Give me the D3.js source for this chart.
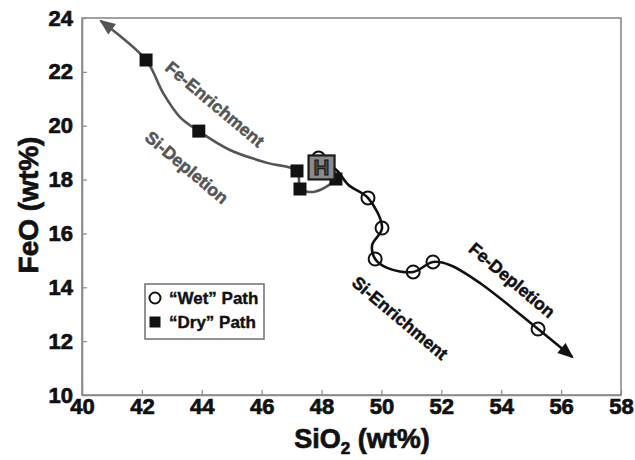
<!DOCTYPE html>
<html>
<head>
<meta charset="utf-8">
<script src="https://cdn.jsdelivr.net/npm/d3@7"></script>
<style>
  html, body { margin: 0; padding: 0; background: #fff; }
  svg { display: block; font-family: "Liberation Sans", Arial, Helvetica, sans-serif; font-weight: bold; }
</style>
</head>
<body>
<svg id="chart" width="635" height="460"></svg>
<script>
// Axis ticks
const xTicks = [40, 42, 44, 46, 48, 50, 52, 54, 56, 58];
const yTicks = [10, 12, 14, 16, 18, 20, 22, 24];

// Measured compositions: [SiO2 wt%, FeO wt%]
const wetPoints = [[47.9, 18.8], [49.55, 17.32], [50.02, 16.2], [49.79, 15.05], [51.06, 14.57], [51.72, 14.94], [55.23, 12.45]];
const dryPoints = [[42.14, 22.44], [43.9, 19.8], [47.18, 18.32], [47.28, 17.65], [48.48, 18.02]];
const hostPoint = [48.0, 18.45];

// Trend paths traced through the compositions
const wetTrend = [[48.0, 18.55], [48.45, 18.4], [48.9, 17.8], [49.55, 17.32], [50.02, 16.2], [49.69, 15.57], [49.79, 15.05], [50.19, 14.72], [51.06, 14.57], [51.72, 14.94], [52.3, 14.82], [53.3, 14.15], [55.23, 12.45], [56.37, 11.41]];
const dryTrend = [[48.0, 18.45], [48.45, 18.05], [47.8, 17.56], [47.3, 17.65], [47.18, 18.32], [46.18, 18.62], [44.94, 19.1], [43.9, 19.8], [43.27, 20.32], [42.71, 21.21], [42.14, 22.44], [40.63, 23.89]];

// Trend annotations: text, anchor [SiO2, FeO], colour
const notes = [
  { text: "Fe-Enrichment", at: [44.44, 20.8], color: "#555" },
  { text: "Si-Depletion",  at: [43.5, 18.45], color: "#555" },
  { text: "Si-Enrichment", at: [50.62, 12.86], color: "#111" },
  { text: "Fe-Depletion",  at: [54.36, 14.27], color: "#111" }
];

const legendItems = [
  { label: "\u201cWet\u201d Path", kind: "circle" },
  { label: "\u201cDry\u201d Path", kind: "square" }
];

const svg = d3.select("#chart");
const x = d3.scaleLinear().domain([40, 58]).range([82, 621]);
const y = d3.scaleLinear().domain([10, 24]).range([395, 18]);

// Arrowheads
const defs = svg.append("defs");
[["arrowGrey", "#555"], ["arrowBlack", "#111"]].forEach(([id, c]) => {
  defs.append("marker")
    .attr("id", id)
    .attr("viewBox", "-17 -7 20 14")
    .attr("refX", -2).attr("refY", 0)
    .attr("markerWidth", 20).attr("markerHeight", 14)
    .attr("markerUnits", "userSpaceOnUse")
    .attr("orient", "auto")
    .append("path")
    .attr("d", "M0,0L-16,-6.5L-16,6.5Z")
    .attr("fill", c);
});

// Frame
svg.append("rect")
  .attr("x", x(40)).attr("y", y(24))
  .attr("width", x(58) - x(40)).attr("height", y(10) - y(24))
  .attr("fill", "none").attr("stroke", "#8a8a8a").attr("stroke-width", 1.6);

// Axes
const xAxis = svg.append("g")
  .attr("transform", `translate(0,${y(10)})`)
  .call(d3.axisBottom(x).tickValues(xTicks).tickFormat(d3.format("d")).tickSizeInner(-5).tickSizeOuter(0).tickPadding(3));
const yAxis = svg.append("g")
  .attr("transform", `translate(${x(40)},0)`)
  .call(d3.axisLeft(y).tickValues(yTicks).tickFormat(d3.format("d")).tickSizeInner(-5).tickSizeOuter(0).tickPadding(9));
[xAxis, yAxis].forEach(g => {
  g.select(".domain").attr("stroke", "#8a8a8a").attr("stroke-width", 1.6);
  g.selectAll(".tick line").attr("stroke", "#8a8a8a").attr("stroke-width", 1.2);
  g.selectAll(".tick text")
    .attr("fill", "#111").attr("stroke", "#111").attr("stroke-width", 0.7)
    .style("font-size", "22px")
    .style("font-weight", "bold")
    .style("font-family", "'Liberation Sans', Arial, sans-serif");
});

// Axis titles
const xTitle = svg.append("text")
  .attr("x", 362).attr("y", 448)
  .attr("text-anchor", "middle")
  .attr("fill", "#111").attr("stroke", "#111").attr("stroke-width", 0.7)
  .style("font-size", "27px");
xTitle.append("tspan").text("SiO");
xTitle.append("tspan").text("2").attr("dy", 6).style("font-size", "17px");
xTitle.append("tspan").text(" (wt%)").attr("dy", -6);

svg.append("text")
  .attr("transform", `translate(38,205) rotate(-90)`)
  .attr("text-anchor", "middle")
  .attr("fill", "#111").attr("stroke", "#111").attr("stroke-width", 0.7)
  .style("font-size", "28px")
  .text("FeO (wt%)");

// Trend lines
const line = d3.line().x(d => x(d[0])).y(d => y(d[1])).curve(d3.curveCatmullRom.alpha(0.5));
svg.append("path")
  .attr("d", line(dryTrend))
  .attr("fill", "none").attr("stroke", "#555").attr("stroke-width", 2.6)
  .attr("marker-end", "url(#arrowGrey)");
svg.append("path")
  .attr("d", line(wetTrend))
  .attr("fill", "none").attr("stroke", "#111").attr("stroke-width", 2.6)
  .attr("marker-end", "url(#arrowBlack)");

// Wet-path samples
svg.append("g").selectAll("circle")
  .data(wetPoints).join("circle")
  .attr("cx", d => x(d[0])).attr("cy", d => y(d[1]))
  .attr("r", 6.5)
  .attr("fill", "none").attr("stroke", "#111").attr("stroke-width", 2);

// Dry-path samples
const sq = 13;
svg.append("g").selectAll("rect")
  .data(dryPoints).join("rect")
  .attr("x", d => x(d[0]) - sq / 2).attr("y", d => y(d[1]) - sq / 2)
  .attr("width", sq).attr("height", sq)
  .attr("fill", "#111");

// Host composition marker
const hx = x(hostPoint[0]), hy = y(hostPoint[1]);
svg.append("rect")
  .attr("x", hx - 13).attr("y", hy - 12)
  .attr("width", 26).attr("height", 24)
  .attr("fill", "#8a8a8a").attr("stroke", "#1a1a1a").attr("stroke-width", 2.2);
svg.append("text")
  .attr("x", hx).attr("y", hy + 8)
  .attr("text-anchor", "middle")
  .attr("fill", "#4a4a4a").attr("stroke", "#111").attr("stroke-width", 1)
  .style("font-size", "22px")
  .text("H");

// Annotations along the trends
svg.append("g").selectAll("text")
  .data(notes).join("text")
  .attr("transform", d => `translate(${x(d.at[0])},${y(d.at[1])}) rotate(40)`)
  .attr("text-anchor", "middle")
  .attr("dy", "0.35em")
  .attr("fill", d => d.color).attr("stroke", d => d.color).attr("stroke-width", 0.5)
  .style("font-size", "17.5px")
  .text(d => d.text);

// Legend
const legend = svg.append("g").attr("transform", "translate(145,284)");
legend.append("rect")
  .attr("width", 119).attr("height", 55)
  .attr("fill", "#fff").attr("stroke", "#777").attr("stroke-width", 1.6);
const li = legend.selectAll("g.item").data(legendItems).join("g")
  .attr("class", "item")
  .attr("transform", (d, i) => `translate(0,${14 + i * 24})`);
li.filter(d => d.kind === "circle").append("circle")
  .attr("cx", 10).attr("cy", 0).attr("r", 5.5)
  .attr("fill", "none").attr("stroke", "#111").attr("stroke-width", 2);
li.filter(d => d.kind === "square").append("rect")
  .attr("x", 4.5).attr("y", -5.5).attr("width", 11).attr("height", 11)
  .attr("fill", "#111");
li.append("text")
  .attr("x", 24).attr("y", 0).attr("dy", "0.35em")
  .attr("fill", "#111").attr("stroke", "#111").attr("stroke-width", 0.4)
  .style("font-size", "17px")
  .text(d => d.label);
</script>
</body>
</html>
